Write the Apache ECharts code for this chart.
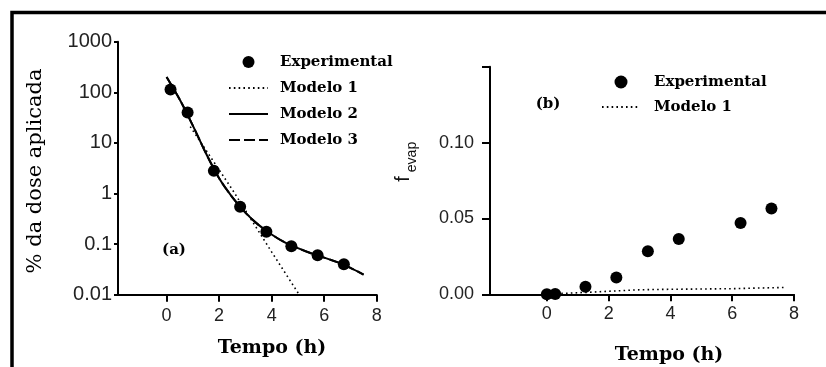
<!DOCTYPE html>
<html>
<head>
<meta charset="utf-8">
<script src="https://cdn.jsdelivr.net/npm/echarts@6/dist/echarts.min.js"></script>
<style>html,body{margin:0;padding:0;background:#fff;}#c{width:826px;height:367px;}</style>
</head>
<body>
<div id="c"></div>
<script>
// ---- Panel (a): % da dose aplicada (log scale)
const timeExpA = [0.15, 0.8, 1.8, 2.8, 3.8, 4.75, 5.75, 6.75];
const doseExpA = [114, 40, 2.8, 0.55, 0.175, 0.091, 0.06, 0.04];
const timeModel1A = [0.9, 2.5, 4.0, 5.05];
const doseModel1A = [21, 1.2, 0.07, 0.01];
const timeModel2A = [0, 0.5, 1, 1.5, 2, 2.5, 3, 3.5, 4, 4.5, 5, 5.5, 6, 6.5, 7, 7.5];
const doseModel2A = [200, 72, 22, 6.2, 2.0, 0.85, 0.42, 0.24, 0.155, 0.108, 0.083, 0.066, 0.054, 0.044, 0.034, 0.025];
const timeModel3A = timeModel2A;
const doseModel3A = doseModel2A;
const yTicksA = [0.01, 0.1, 1, 10, 100, 1000];
const yTickLabelsA = ['0.01', '0.1', '1', '10', '100', '1000'];

// ---- Panel (b): f_evap
const timeExpB = [0, 0.27, 1.25, 2.25, 3.27, 4.27, 6.27, 7.27];
const fevapExpB = [0, 0.0002, 0.005, 0.011, 0.0283, 0.0365, 0.047, 0.0566];
const timeModel1B = [0, 0.5, 1, 2, 3, 4, 5, 6, 7, 7.7];
const fevapModel1B = [0, 0.0006, 0.001, 0.002, 0.003, 0.0033, 0.0035, 0.0037, 0.0042, 0.0045];
const yTicksB = [0, 0.05, 0.10, 0.15];
const yTickLabelsB = ['0.00', '0.05', '0.10', ''];

const xTicks = [0, 2, 4, 6, 8];
const xTickLabels = ['0', '2', '4', '6', '8'];

const zip = (a, b) => a.map((v, i) => [v, b[i]]);

const serifB = 'DejaVu Serif';
const sans = 'Liberation Sans';

function xAxisCfg(gridIndex, min, margin) {
  return {
    gridIndex, type: 'value', min, max: 8,
    splitLine: { show: false },
    axisLine: { onZero: false, lineStyle: { color: '#000', width: 2 } },
    axisTick: { show: true, customValues: xTicks, length: 7, lineStyle: { color: '#000', width: 2 } },
    axisLabel: { customValues: xTicks, margin, fontFamily: sans, fontSize: 18, color: '#222',
      formatter: v => xTickLabels[xTicks.indexOf(v)] ?? '' }
  };
}

const hideSym = { opacity: 0 };

const option = {
  backgroundColor: '#fff',
  animation: false,
  grid: [
    { left: 118, top: 41.7, width: 258.7, height: 253, containLabel: false },
    { left: 490, top: 66.7, width: 304, height: 227.6, containLabel: false }
  ],
  xAxis: [xAxisCfg(0, -1.85, 12), xAxisCfg(1, -1.84, 11)],
  yAxis: [
    {
      gridIndex: 0, type: 'log', logBase: 10, min: 0.01, max: 1000,
      splitLine: { show: false }, minorTick: { show: false },
      axisLine: { onZero: false, lineStyle: { color: '#000', width: 2 } },
      axisTick: { customValues: yTicksA, length: 4, lineStyle: { color: '#000', width: 2 } },
      axisLabel: { customValues: yTicksA, margin: 6, fontFamily: sans, fontSize: 20, color: '#222',
        formatter: v => { let i = yTicksA.findIndex(t => Math.abs(Math.log10(t) - Math.log10(v)) < 1e-6); return i >= 0 ? yTickLabelsA[i] : ''; } }
    },
    {
      gridIndex: 1, type: 'value', min: 0, max: 0.15, interval: 0.05,
      splitLine: { show: false },
      axisLine: { onZero: false, lineStyle: { color: '#000', width: 2 } },
      axisTick: { length: 8, lineStyle: { color: '#000', width: 2 } },
      axisLabel: { margin: 16, fontFamily: sans, fontSize: 18, color: '#222',
        formatter: v => { let i = yTicksB.findIndex(t => Math.abs(t - v) < 1e-9); return i >= 0 ? yTickLabelsB[i] : ''; } }
    }
  ],
  legend: [
    {
      left: 228, top: 54, orient: 'vertical', padding: 0, itemWidth: 39, itemHeight: 12, itemGap: 10,
      selectedMode: false,
      textStyle: { fontFamily: serifB, fontWeight: 'bold', fontSize: 15, color: '#000', lineHeight: 16, padding: [0, 0, 0, 7] },
      data: [{ name: 'Experimental', itemStyle: { opacity: 1 } }, { name: 'Modelo 1', itemStyle: hideSym }, { name: 'Modelo 2', itemStyle: hideSym }, { name: 'Modelo 3', itemStyle: hideSym }]
    },
    {
      left: 601, top: 74, orient: 'vertical', padding: 0, itemWidth: 38, itemHeight: 13, itemGap: 9,
      selectedMode: false,
      textStyle: { fontFamily: serifB, fontWeight: 'bold', fontSize: 15, color: '#000', lineHeight: 16, padding: [0, 0, 0, 9] },
      data: [{ name: 'Experimental', itemStyle: { opacity: 1 } }, { name: 'Modelo 1', itemStyle: hideSym }]
    }
  ],
  series: [
    { name: 'Modelo 1', type: 'line', xAxisIndex: 0, yAxisIndex: 0, data: zip(timeModel1A, doseModel1A),
      symbol: 'none', lineStyle: { color: '#000', width: 1.6, type: [1.6, 3.2] }, itemStyle: { color: '#000' }, z: 2 },
    { name: 'Modelo 2', type: 'line', xAxisIndex: 0, yAxisIndex: 0, data: zip(timeModel2A, doseModel2A),
      symbol: 'none', smooth: 0.3, lineStyle: { color: '#000', width: 2 }, itemStyle: { color: '#000' }, z: 3 },
    { name: 'Modelo 3', type: 'line', xAxisIndex: 0, yAxisIndex: 0, data: zip(timeModel3A, doseModel3A),
      symbol: 'none', smooth: 0.3, lineStyle: { color: '#000', width: 2, type: [11, 4] }, itemStyle: { color: '#000' }, z: 3 },
    { name: 'Experimental', type: 'scatter', xAxisIndex: 0, yAxisIndex: 0, data: zip(timeExpA, doseExpA),
      symbol: 'circle', symbolSize: 12, itemStyle: { color: '#000', opacity: 1 }, z: 4 },
    { name: 'Modelo 1', type: 'line', xAxisIndex: 1, yAxisIndex: 1, data: zip(timeModel1B, fevapModel1B),
      symbol: 'none', lineStyle: { color: '#000', width: 1.6, type: [1.6, 3.2] }, itemStyle: { color: '#000' }, z: 2 },
    { name: 'Experimental', type: 'scatter', xAxisIndex: 1, yAxisIndex: 1, data: zip(timeExpB, fevapExpB),
      symbol: 'circle', symbolSize: 12, itemStyle: { color: '#000', opacity: 1 }, z: 4 }
  ],
  graphic: [
    { type: 'rect', shape: { x: 12, y: 12.5, width: 900, height: 400 }, style: { fill: null, stroke: '#000', lineWidth: 3.5 }, z: 10 },
    { type: 'text', x: 36, y: 171, rotation: Math.PI / 2,
      style: { text: '% da dose aplicada', font: 'normal 21px "DejaVu Serif"', fill: '#000', textAlign: 'center', textVerticalAlign: 'middle' } },
    { type: 'text', x: 272, y: 348,
      style: { text: 'Tempo (h)', font: 'bold 19px "DejaVu Serif"', fill: '#000', textAlign: 'center', textVerticalAlign: 'middle' } },
    { type: 'text', x: 669, y: 355,
      style: { text: 'Tempo (h)', font: 'bold 19px "DejaVu Serif"', fill: '#000', textAlign: 'center', textVerticalAlign: 'middle' } },
    { type: 'text', x: 174, y: 250,
      style: { text: '(a)', font: 'bold 15px "DejaVu Serif"', fill: '#000', textAlign: 'center', textVerticalAlign: 'middle' } },
    { type: 'text', x: 548, y: 104,
      style: { text: '(b)', font: 'bold 15px "DejaVu Serif"', fill: '#000', textAlign: 'center', textVerticalAlign: 'middle' } },
    { type: 'text', x: 403, y: 179, rotation: Math.PI / 2,
      style: { text: 'f', font: 'normal 20px "Liberation Sans"', fill: '#111', textAlign: 'center', textVerticalAlign: 'middle' } },
    { type: 'text', x: 412, y: 157, rotation: Math.PI / 2,
      style: { text: 'evap', font: 'normal 14px "Liberation Sans"', fill: '#111', textAlign: 'center', textVerticalAlign: 'middle' } }
  ]
};

const chart = echarts.init(document.getElementById('c'), null, { renderer: 'canvas' });
chart.setOption(option);
</script>
</body>
</html>
